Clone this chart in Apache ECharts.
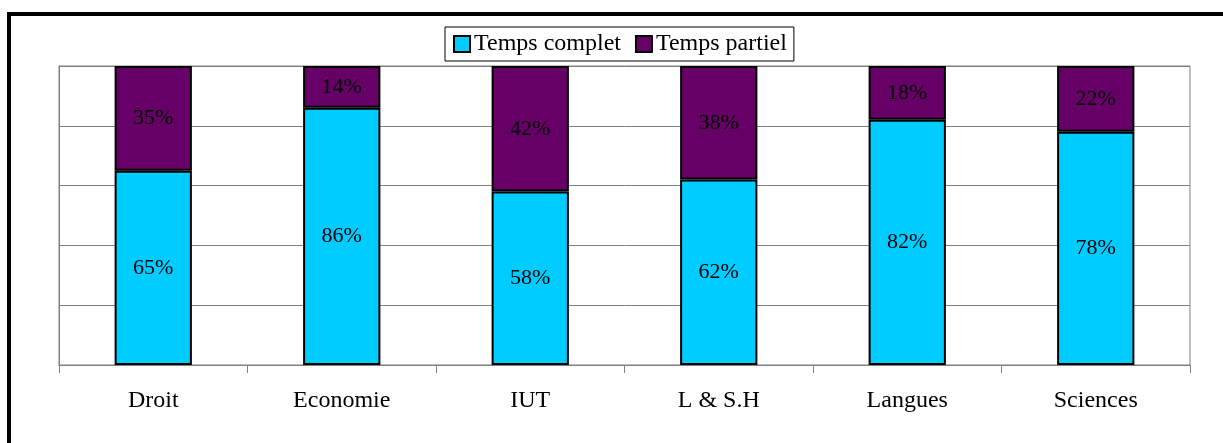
<!DOCTYPE html>
<html><head><meta charset="utf-8">
<script src="https://cdn.jsdelivr.net/npm/echarts@6/dist/echarts.min.js"></script>
<style>html,body{margin:0;padding:0;background:#fff}#c{width:1223px;height:443px}</style>
</head><body><div id="c"></div>
<script>
const categories = ['Droit', 'Economie', 'IUT', 'L & S.H', 'Langues', 'Sciences'];
const tempsComplet = [65, 86, 58, 62, 82, 78];
const tempsPartiel = [35, 14, 42, 38, 18, 22];
const seriesNames = ['Temps complet', 'Temps partiel'];

const font = '"Liberation Serif", "Times New Roman", serif';
const chart = echarts.init(document.getElementById('c'), null, {renderer: 'canvas'});
const lbl = {show: true, position: 'inside', color: '#000', fontFamily: font, fontSize: 22, formatter: p => p.value + '%'};
chart.setOption({
  animation: false,
  backgroundColor: '#fff',
  graphic: [{type: 'rect', shape: {x: 9, y: 14, width: 1400, height: 600}, style: {fill: 'none', stroke: '#000', lineWidth: 4}, silent: true}],
  legend: {
    left: 445, top: 27,
    data: seriesNames,
    icon: 'rect', itemWidth: 16, itemHeight: 16, itemGap: 14,
    borderColor: '#000', borderWidth: 1, padding: [5, 7, 5, 8],
    textStyle: {fontFamily: font, fontSize: 24, color: '#000', padding: [0, 0, 0, -1]},
    itemStyle: {borderColor: '#000', borderWidth: 2}
  },
  grid: {left: 59, right: 33, top: 66, bottom: 78, show: true, borderColor: '#808080', borderWidth: 1},
  xAxis: {
    type: 'category', data: categories,
    axisLine: {lineStyle: {color: '#808080', width: 1}},
    axisTick: {show: true, length: 8, lineStyle: {color: '#808080'}},
    axisLabel: {fontFamily: font, fontSize: 24, color: '#000', margin: 24}
  },
  yAxis: {
    type: 'value', min: 0, max: 100, interval: 20,
    axisLabel: {show: false}, axisTick: {show: false},
    axisLine: {show: true, lineStyle: {color: '#808080'}},
    splitLine: {lineStyle: {color: '#808080', width: 1}}
  },
  series: [
    {name: seriesNames[0], type: 'bar', stack: 's', data: tempsComplet, barWidth: '41%',
     itemStyle: {color: '#00CCFF', borderColor: '#000', borderWidth: 2}, label: lbl},
    {name: seriesNames[1], type: 'bar', stack: 's', data: tempsPartiel, barWidth: '41%',
     itemStyle: {color: '#660066', borderColor: '#000', borderWidth: 2}, label: lbl}
  ]
});
</script></body></html>
